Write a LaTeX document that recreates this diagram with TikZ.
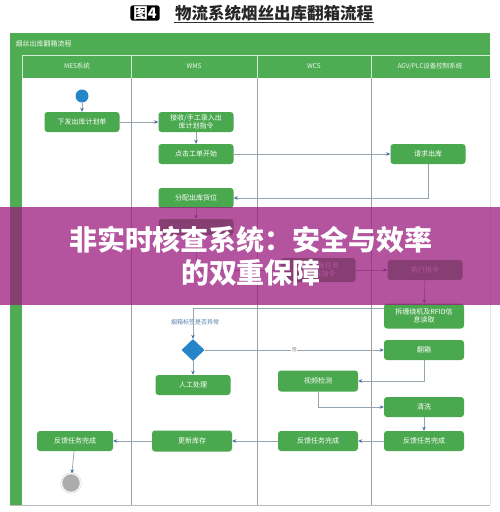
\documentclass[tikz,border=0pt]{standalone}
\usepackage{fontspec}
\newfontfamily\cjk{Noto Sans CJK SC}
\usetikzlibrary{shapes.geometric,arrows.meta}

\definecolor{lanegreen}{RGB}{78,172,82}
\definecolor{boxgreen}{RGB}{74,168,78}
\definecolor{linegray}{RGB}{150,162,172}
\definecolor{tipblue}{RGB}{62,108,160}
\definecolor{startblue}{RGB}{38,132,200}
\definecolor{bannercol}{RGB}{156,28,128}

\tikzset{
  box/.style={fill=boxgreen, rounded corners=3pt, minimum width=75, minimum height=20,
    inner sep=1pt, text=white, align=center, font=\cjk\fontsize{7}{8.5}\selectfont},
  flow/.style={draw=linegray, line width=0.7pt, -{Stealth[length=4pt,width=3.5pt,color=tipblue]}},
  lanehead/.style={text=white!92!lanegreen, font=\cjk\fontsize{6.5}{7}\selectfont},
}

\begin{document}
\begin{tikzpicture}[x=1pt, y=-1pt]
  \useasboundingbox (0,0) rectangle (500,512);
  \fill[white] (0,0) rectangle (500,512);

  % 标题
  \node[fill=black, rounded corners=2.5pt, text=white, inner xsep=3pt, inner ysep=1pt,
        font=\cjk\bfseries\fontsize{14.5}{15}\selectfont] (tag) at (145,13) {图4};
  \node[anchor=west, inner sep=1pt, text=black!85,
        font=\cjk\bfseries\fontsize{16.5}{18}\selectfont] (title) at (174,13) {物流系统烟丝出库翻箱流程};
  \draw[black!80, line width=0.8pt] (title.south west) -- (title.south east);

  % 泳道
  \fill[lanegreen] (10,33) rectangle (490,78);
  \fill[lanegreen] (10,78) rectangle (22,505);
  \draw[white!75!lanegreen, line width=0.4pt] (22,55) -- (490,55) (22,55) -- (22,78);
  \node[anchor=west, text=white!92!lanegreen, font=\cjk\fontsize{7}{8}\selectfont] (pool) at (12,44) {烟丝出库翻箱流程};
  \node[lanehead] (mes) at (77,66) {MES系统};
  \node[lanehead] (wms) at (194,66) {WMS};
  \node[lanehead] (wcs) at (314,66) {WCS};
  \node[lanehead] (agv) at (430,66) {AGV/PLC设备控制系统};
  \foreach \x in {131,257,371} {
    \draw[white!75!lanegreen, line width=0.4pt] (\x,55) -- (\x,78);
    \draw[gray!75, line width=0.7pt] (\x,78) -- (\x,505);
  }
  \draw[gray!55, line width=0.7pt] (10,505) -- (490,505);
  \draw[gray!20, line width=0.4pt] (490,78) -- (490,505);

  % 节点
  \node[circle, fill=startblue, minimum size=13, inner sep=0] (start) at (82,96) {};
  \node[box] (plan) at (82,122) {下发出库计划单};
  \node[box] (recv) at (196,122) {接收/手工录入出\\库计划指令};
  \node[box] (click) at (196,154) {点击工单开始};
  \node[box] (req) at (428,154) {请求出库};
  \node[box] (alloc) at (196,198) {分配出库货位};
  \node[box, minimum height=16] (task) at (196,227) {};
  \node[box, minimum height=24] (send) at (318,270) {接收出库任务\\并下发指令};
  \node[box] (exec) at (425,270) {执行指令};
  \node[box, minimum width=80, minimum height=25] (unwrap) at (424,316) {拆缠绕机及RFID信\\息读取};
  \node[diamond, fill=startblue, minimum width=23, minimum height=22, inner sep=0] (chk) at (193,350) {};
  \node[text=tipblue!85, font=\cjk\fontsize{6}{7}\selectfont] (chklbl) at (195,322) {烟箱标签是否异常};
  \node[box] (manual) at (193,385) {人工处理};
  \node[box, minimum width=80] (flip) at (424,350) {翻箱};
  \node[box, minimum width=80, minimum height=21] (video) at (318,381) {视频检测};
  \node[box, minimum width=80] (wash) at (424,407) {清洗};
  \node[box, minimum width=80] (fbagv) at (424,441) {反馈任务完成};
  \node[box, minimum width=80] (fbwcs) at (318,441) {反馈任务完成};
  \node[box, minimum width=80, minimum height=21] (stock) at (192,441) {更新库存};
  \node[box, minimum width=76] (fbmes) at (75,441) {反馈任务完成};
  \node[circle, fill=gray!65, draw=gray!45, double=white, double distance=1pt,
        minimum size=19, inner sep=0] (end) at (71,483) {};

  % 连线
  \draw[flow] (start) -- (plan);
  \draw[flow] (plan) -- (recv);
  \draw[flow] (recv) -- (click);
  \draw[flow] (click) -- (req);
  \draw[flow] (req) |- (alloc);
  \draw[flow] (alloc) -- (task);
  \draw[flow] (task) |- (send);
  \draw[flow] (send) -- (exec);
  \draw[flow] (exec) -- (unwrap);
  \draw[flow] ([yshift=8pt]unwrap.west) -| (chk.north);
  \draw[flow] (chk) -- (manual);
  \draw[flow] (chk) -- node[fill=white, inner sep=0.5pt, text=gray, font=\cjk\fontsize{5}{6}\selectfont] (no) {否} (flip);
  \draw[flow] (flip) |- (video);
  \draw[flow] (video) |- (wash);
  \draw[flow] (wash) -- (fbagv);
  \draw[flow] (fbagv) -- (fbwcs);
  \draw[flow] (fbwcs) -- (stock);
  \draw[flow] (stock) -- (fbmes);
  \draw[flow] (fbmes) -- (end);

  % 横幅
  \fill[bannercol, opacity=0.75] (0,207) rectangle (500,305);
  \node[text=white, align=center, font=\cjk\bfseries\fontsize{28}{33}\selectfont] (banner) at (251,256)
    {非实时核查系统：安全与效率\\的双重保障};
\end{tikzpicture}
\end{document}
